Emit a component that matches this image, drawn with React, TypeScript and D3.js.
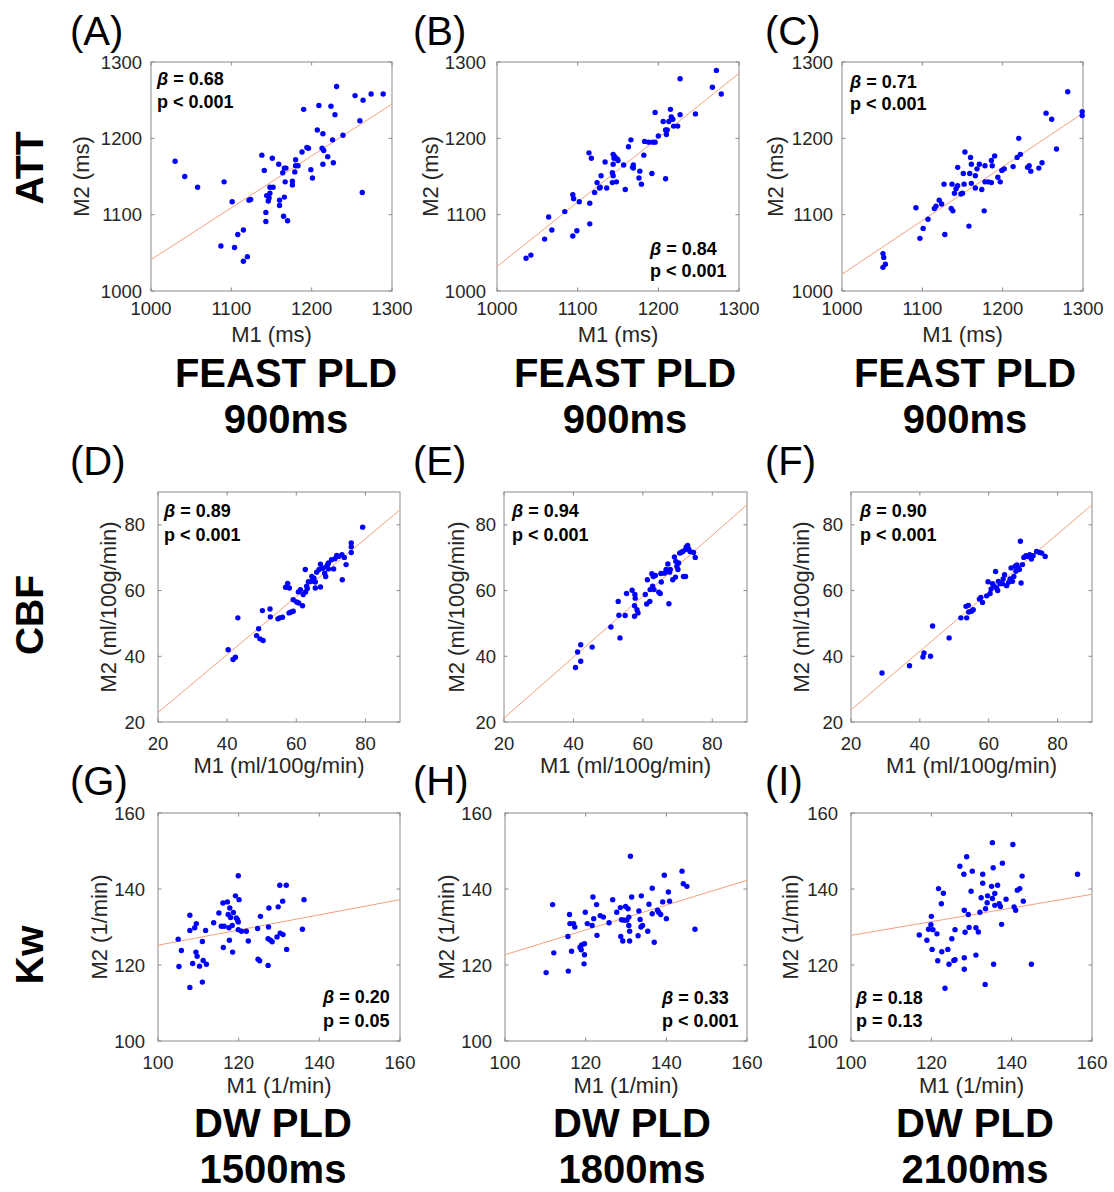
import React from "react";
import * as d3 from "d3";

// ---------- DATA ----------
const attTicks = [1000, 1100, 1200, 1300];
const cbfTicks = [20, 40, 60, 80];
const kwTicks = [100, 120, 140, 160];
const attDomain = [1000, 1300];
const cbfDomain = [20, 90];
const kwDomain = [100, 160];

const rowLabels = ["ATT", "CBF", "Kw"];
const panelLetters = ["(A)", "(B)", "(C)", "(D)", "(E)", "(F)", "(G)", "(H)", "(I)"];
const titleLine1 = ["FEAST PLD", "FEAST PLD", "FEAST PLD", "DW PLD", "DW PLD", "DW PLD"];
const titleLine2 = ["900ms", "900ms", "900ms", "1500ms", "1800ms", "2100ms"];
const xLabels = ["M1 (ms)", "M1 (ml/100g/min)", "M1 (1/min)"];
const yLabels = ["M2 (ms)", "M2 (ml/100g/min)", "M2 (1/min)"];
const betaValues = ["0.68", "0.84", "0.71", "0.89", "0.94", "0.90", "0.20", "0.33", "0.18"];
const pValues = ["p < 0.001", "p < 0.001", "p < 0.001", "p < 0.001", "p < 0.001", "p < 0.001", "p = 0.05", "p < 0.001", "p = 0.13"];
// fitted line: M2 at the left and right end of the x domain
const fitEnds = [[1041, 1245], [1032, 1285], [1022, 1233], [22.9, 84.6], [21.2, 86.1], [23.7, 86.1], [125.2, 137.2], [122.7, 142.3], [127.8, 138.6]];

const attA_M1 = [1030,1042,1058,1091,1101,1087,1104,1108,1115,1115,1120,1122,1124,1138,1141,1143,1143,1144,1146,1147,1148,1148,1152,1151,1159,1160,1160,1164,1166,1168,1167,1166,1165,1170,1176,1176,1179,1180,1180,1183,1188,1190,1194,1196,1199,1201,1207,1209,1213,1214,1214,1215,1220,1224,1226,1227,1229,1231,1239,1254,1260,1263,1264,1274,1289];
const attA_M2 = [1170,1150,1136,1143,1117,1059,1057,1074,1080,1039,1045,1119,1120,1178,1158,1103,1091,1125,1118,1122,1128,1136,1136,1174,1166,1119,1112,1155,1161,1161,1143,1123,1098,1092,1144,1139,1156,1172,1164,1164,1182,1238,1188,1187,1159,1148,1211,1243,1187,1206,1166,1184,1176,1242,1198,1168,1231,1268,1204,1256,1223,1129,1250,1258,1258];
const attB_M1 = [1036,1042,1059,1064,1068,1084,1094,1099,1094,1095,1102,1115,1115,1114,1117,1121,1124,1127,1128,1129,1134,1136,1143,1143,1144,1144,1145,1146,1144,1148,1149,1150,1157,1159,1163,1166,1168,1169,1169,1176,1177,1179,1182,1183,1188,1192,1193,1196,1196,1200,1206,1209,1209,1210,1211,1213,1215,1216,1218,1219,1224,1227,1227,1246,1267,1272,1278];
const attB_M2 = [1043,1047,1068,1097,1080,1104,1072,1079,1126,1121,1117,1115,1088,1181,1174,1129,1142,1135,1136,1151,1169,1135,1155,1142,1151,1179,1174,1176,1166,1143,1173,1171,1165,1133,1189,1198,1162,1165,1161,1148,1157,1140,1178,1196,1195,1154,1195,1195,1234,1203,1222,1211,1147,1205,1211,1222,1238,1228,1225,1216,1216,1231,1278,1232,1267,1289,1258];
const attC_M1 = [1051,1052,1054,1051,1092,1097,1101,1107,1115,1117,1121,1124,1127,1128,1136,1138,1137,1140,1142,1144,1144,1148,1150,1151,1152,1153,1158,1159,1160,1161,1161,1166,1166,1168,1171,1174,1177,1178,1178,1182,1186,1186,1187,1190,1194,1197,1199,1202,1213,1218,1220,1222,1231,1233,1235,1245,1249,1254,1261,1267,1281,1299,1299];
const attC_M2 = [1049,1044,1035,1031,1109,1069,1082,1094,1108,1111,1119,1114,1140,1074,1108,1105,1140,1128,1134,1162,1138,1127,1128,1154,1140,1182,1085,1154,1175,1166,1141,1151,1135,1160,1166,1133,1105,1143,1164,1143,1142,1171,1164,1177,1149,1143,1158,1160,1163,1175,1200,1179,1162,1164,1157,1161,1168,1233,1225,1186,1261,1235,1230];
const cbfD_M1 = [40.3,41.7,42.4,43.1,48.5,49.1,49.5,50.4,50.2,52.4,52.5,54.7,55.2,56,56.9,57.5,58,57.9,58.5,59.1,59.1,60.1,60.6,60.7,61.2,61.8,62,62.6,62.7,63,63.2,63.5,64.5,65.1,65.5,65.5,65.9,66.6,67,67,67.7,68.2,68.5,68.8,69.1,69.3,70.2,70.8,71.2,71.7,72.2,73.2,73.3,73.9,74.4,75.9,75.9,75.9,79.2,69.3,64.5];
const cbfD_M2 = [42,39,39.7,51.7,46.3,48.4,45.3,44.8,53.9,54.4,52,51.4,51.7,51.9,61,62.2,60.8,53.2,53.5,53.7,57.2,56.5,59.6,56.2,60.3,55.4,58.8,66.4,59.6,61.3,60.6,62.7,64.3,63.8,60.8,62.6,65.6,66.4,61.1,68,66.8,65.3,64.3,67.4,67.9,66.6,69.4,66.6,69.7,70.7,70.4,70.9,63.3,70.1,67.9,74.5,73.3,71.6,79.3,68.4,62.8];
const cbfE_M1 = [40.6,41.2,42.1,42.1,45.4,50.8,52.9,53.1,53.4,54.9,55.3,56.9,57.6,57.6,57.7,57.8,58.3,58.6,60.7,61.1,61.3,62,62.1,62.6,62.8,63,63.2,63.6,64.6,65,65.2,65.3,66.2,66.7,67.2,67.5,67.7,67.9,68.6,69.1,69.4,69.5,69.8,70.1,70.3,70.6,71,71.5,71.7,72.3,72.3,72.9,73.2,74.6,75.1,72.5,73.6];
const cbfE_M2 = [36.6,41.3,43.5,38.5,42.8,48.9,56.7,52.5,45.6,52.4,59.1,60.1,55.4,52.2,58.8,57.7,54.2,53.2,58.8,55.9,63.3,56.7,60.3,65.1,61.3,64.3,60.3,64.6,59.5,59.1,65.2,62.6,65.3,66.4,68.1,56,65.6,66.4,63.3,70.2,64.1,68.9,67.4,66.4,68.4,71.4,71.6,71.9,64.3,64.3,72.5,73.7,72.7,71.6,70.1,73.3,71.9];
const cbfF_M1 = [29,37,40.9,41.2,43.1,43.7,48.5,51.9,53.4,53.6,54.1,54.2,55,55.5,57.3,57.7,58.2,59.4,59.8,60.4,60.7,61.1,61.5,62,62.3,62.6,62.8,63.3,64,64.6,65.2,65.8,66.2,66.5,66.9,67.3,67.7,67.9,68.2,68.6,69.2,69.4,69.8,70.2,70.8,71.2,71.9,72.4,72.9,73.9,74.8,75.4,76.4,68.9,64.2];
const cbfF_M2 = [34.9,37.1,39.8,41,40,49.2,45.6,51.7,55.2,51.7,55.5,53.5,53.7,54.2,57.4,57.9,56.4,58.4,62.7,59.1,60.5,62.1,61.5,65.8,60.8,60,62.8,62.1,62.1,64.8,61.5,62.5,63.5,66.9,62.8,64.3,67.4,65.9,67.8,66.9,75,62.3,67.9,70.1,70.6,70.4,70.9,69.6,70.6,71.9,71.6,71.4,70.4,66.4,63.5];
const kwG_M1 = [105,105.2,105.8,107.9,107.9,107.9,108.6,109.1,109.5,109.4,109.7,110.3,111,111,111.2,112,111.8,113.8,115.1,115.7,116.1,116.2,116.4,117.2,117.4,117.6,117.7,117.8,118,118.4,118.5,118.7,119.2,119.4,119.7,119.9,119.9,120.1,119.9,120.7,121.9,122.4,124.7,124.8,125.2,125.4,127.4,127.3,127.5,127.3,127.9,128.3,129.5,129.8,130.3,130.2,130.9,131,131.8,131.9,135.8,136.2];
const kwG_M2 = [126.8,119.6,123.8,133.1,114.1,129.1,120.4,129.8,130.9,123.4,122.3,119.7,126.2,115.5,121.2,120.2,129.1,131.1,133.7,130.2,136.3,124.6,130.2,136.6,133.3,129.8,126.5,135,132.5,130.4,123.4,133.8,138.2,132.4,131.9,131.3,143.5,137.2,129.3,128.9,128.9,126.3,129.6,121.5,121.1,132.8,130,119.9,135,126.9,126.5,126.1,127.4,135.3,128.4,141,136.8,128,141,124.1,129.4,137.2];
const kwH_M1 = [110.2,111.8,112.1,115.6,115.7,116,116.1,116.5,117,117.3,118.6,118.9,119,119.7,119.7,119.6,119.9,120.4,121.6,121.8,122,122.7,122.8,123.6,124.4,125.8,126.7,127.7,128.6,128.7,128.9,129.2,129.5,129.9,130.2,130.5,130.7,130.7,130.9,130.9,131.1,131.4,133,133.2,133.5,133.7,133.8,134.1,135.4,135.7,136.5,136.5,137,137.8,138.1,138.6,139.1,139.5,140,140.5,140.8,143.9,144.2,145.1,147.1];
const kwH_M2 = [118,135.9,123.2,127.5,118.4,133.3,130.9,123.6,130.9,130,124.7,124,125.3,125.6,122.7,120.3,133.9,130.9,130.4,137.9,132.2,135.9,127.8,133,132.6,131.1,137.2,133.9,135.1,127.5,131.9,126.3,131.8,135.4,131.8,134.8,130.4,132.6,126.3,128.9,148.6,137.9,127.7,134.2,132,130,138.2,130.4,128.9,136,140.2,133.5,126,134.4,133.9,133.3,136.6,143.6,132.2,139.2,136.8,144.7,141.4,140.7,129.4];
const kwI_M1 = [117,118.9,119.3,119.9,120,120.2,120.4,121.4,121.6,121.8,122.5,122.6,123,123.4,124.1,124.4,125.1,125.6,125.9,125.9,127.1,128.1,128.2,128.2,128.2,128.4,128.8,129.2,129.4,129.9,130.2,131.1,131.1,131.7,132.1,132.4,132.8,132.8,133.4,133.5,133.9,134,135,135.2,135.2,135.4,135.5,135.8,135.8,136.5,136.9,137.2,137.5,137.7,138.6,140.3,140.6,141,141.4,142,142.6,142.9,144.9,156.4];
const kwI_M2 = [127.9,126.5,129.4,130.6,132.8,124.1,129.3,128.2,121.1,140.1,136.1,123.5,138.9,113.9,124.1,120.2,126.9,121.2,121.4,129.3,146,143.9,134.4,121.9,118.9,128.6,148.5,133.3,129.9,139.4,144.7,129.8,122.6,128.7,133.9,137.7,143.9,141.5,114.9,134.8,136.4,138.2,140.7,152.2,137.5,145.6,120.2,138.8,135.7,141,136.1,135.4,130.7,146.8,137.3,151.7,135.3,134.4,139.7,140.1,143.4,136.8,120.2,143.9];

const seriesM1 = [attA_M1, attB_M1, attC_M1, cbfD_M1, cbfE_M1, cbfF_M1, kwG_M1, kwH_M1, kwI_M1];
const seriesM2 = [attA_M2, attB_M2, attC_M2, cbfD_M2, cbfE_M2, cbfF_M2, kwG_M2, kwH_M2, kwI_M2];
const rowDomains = [attDomain, cbfDomain, kwDomain];
const rowTicks = [attTicks, cbfTicks, kwTicks];

// ---------- LAYOUT ----------
const plotBoxes = [
  [151, 62, 392, 291], [497, 62, 739, 291], [842, 62, 1083, 291],
  [158, 492, 400, 722], [504, 492, 747, 722], [851, 492, 1092, 722],
  [158, 813, 400, 1041], [505, 813, 747, 1041], [851, 813, 1092, 1041],
];
const yTickGap = [9, 11, 9, 13, 8, 8, 13, 13, 13];
const yLabelOff = [62, 59, 59, 42, 40, 42, 51, 51, 53];
const xTickOff = [24, 28, 28];
const xLabelOff = [51, 51, 52];
// annotation: [corner, dx, line1 dy, line2 dy]
const annot = [
  ["tl", 6, 23, 46], ["br", -89, -36, -14], ["tl", 8, 26, 48],
  ["tl", 6, 25, 49], ["tl", 8, 25, 49], ["tl", 9, 25, 49],
  ["br", -77, -38, -14], ["br", -85, -37, -14], ["bl", 5, -37, -14],
];
const letterX = [70, 413, 765];
const letterBase = [45, 475, 795];
const rowLabelY = [168, 615, 955];
const titleX = [286, 625, 965, 273, 632, 975];
const titleBase = [[387, 433], [1137, 1183]];

const FONT = "Helvetica, Arial, 'Liberation Sans', sans-serif";
const TEXT = "#262626";
const BOX = "#8a8a8a";

function Panel({ i }: { i: number }) {
  const row = Math.floor(i / 3);
  const [x0, y0, x1, y1] = plotBoxes[i];
  const dom = rowDomains[row];
  const ticks = rowTicks[row];
  const xs = d3.scaleLinear().domain(dom).range([x0, x1]);
  const ys = d3.scaleLinear().domain(dom).range([y1, y0]);
  const m1 = seriesM1[i];
  const m2 = seriesM2[i];
  const pts = m1.map((v, k) => [v, m2[k]]);
  const line = d3.line<number[]>().x((d) => xs(d[0])).y((d) => ys(d[1]));
  const fitPts = [[dom[0], fitEnds[i][0]], [dom[1], fitEnds[i][1]]];
  const [corner, dx, dy1, dy2] = annot[i] as [string, number, number, number];
  const ax = corner === "br" ? x1 + dx : x0 + dx;
  const ay1 = corner === "tl" ? y0 + dy1 : y1 + dy1;
  const ay2 = corner === "tl" ? y0 + dy2 : y1 + dy2;
  const tl = 3.5;
  return (
    <g>
      <rect x={x0} y={y0} width={x1 - x0} height={y1 - y0} fill="white" stroke={BOX} strokeWidth={1} />
      {ticks.map((t) => (
        <g key={"t" + t}>
          <line x1={xs(t)} x2={xs(t)} y1={y1} y2={y1 - tl} stroke={BOX} />
          <line x1={xs(t)} x2={xs(t)} y1={y0} y2={y0 + tl} stroke={BOX} />
          <line x1={x0} x2={x0 + tl} y1={ys(t)} y2={ys(t)} stroke={BOX} />
          <line x1={x1} x2={x1 - tl} y1={ys(t)} y2={ys(t)} stroke={BOX} />
          <text x={xs(t)} y={y1 + xTickOff[row]} textAnchor="middle" fontSize={18.5} fill={TEXT} fontFamily={FONT}>{t}</text>
          <text x={x0 - yTickGap[i]} y={ys(t) + 6.5} textAnchor="end" fontSize={18.5} fill={TEXT} fontFamily={FONT}>{t}</text>
        </g>
      ))}
      <text x={(x0 + x1) / 2} y={y1 + xLabelOff[row]} textAnchor="middle" fontSize={22} fill={TEXT} fontFamily={FONT}>{xLabels[row]}</text>
      <text transform={`translate(${x0 - yLabelOff[i]},${(y0 + y1) / 2}) rotate(-90)`} textAnchor="middle" fontSize={22} fill={TEXT} fontFamily={FONT}>{yLabels[row]}</text>
      <path d={line(fitPts as number[][]) || ""} fill="none" stroke="#F2A07E" strokeWidth={1} />
      {pts.map((p, k) => (
        <circle key={k} cx={xs(p[0])} cy={ys(p[1])} r={2.7} fill="#0000FF" />
      ))}
      <text x={ax} y={ay1} fontSize={18} fontWeight="bold" fill="#000" fontFamily={FONT}>
        <tspan fontStyle="italic">β</tspan> = {betaValues[i]}
      </text>
      <text x={ax} y={ay2} fontSize={18} fontWeight="bold" fill="#000" fontFamily={FONT}>{pValues[i]}</text>
      <text x={letterX[i % 3]} y={letterBase[row]} fontSize={40} fill="#000" fontFamily={FONT}>{panelLetters[i]}</text>
    </g>
  );
}

export default function App() {
  return (
    <svg width={1114} height={1192} style={{ position: "absolute", left: 0, top: 0, background: "white" }}>
      <rect width={1114} height={1192} fill="white" />
      {d3.range(9).map((i) => <Panel key={i} i={i} />)}
      {rowLabels.map((l, r) => (
        <text key={l} transform={`translate(43,${rowLabelY[r]}) rotate(-90)`} textAnchor="middle" fontSize={39} fontWeight="bold" fill="#000" fontFamily={FONT}>{l}</text>
      ))}
      {titleLine1.map((t, k) => {
        const tr = k < 3 ? 0 : 1;
        return (
          <g key={k}>
            <text x={titleX[k]} y={titleBase[tr][0]} textAnchor="middle" fontSize={40} fontWeight="bold" fill="#000" fontFamily={FONT}>{t}</text>
            <text x={titleX[k]} y={titleBase[tr][1]} textAnchor="middle" fontSize={40} fontWeight="bold" fill="#000" fontFamily={FONT}>{titleLine2[k]}</text>
          </g>
        );
      })}
    </svg>
  );
}
